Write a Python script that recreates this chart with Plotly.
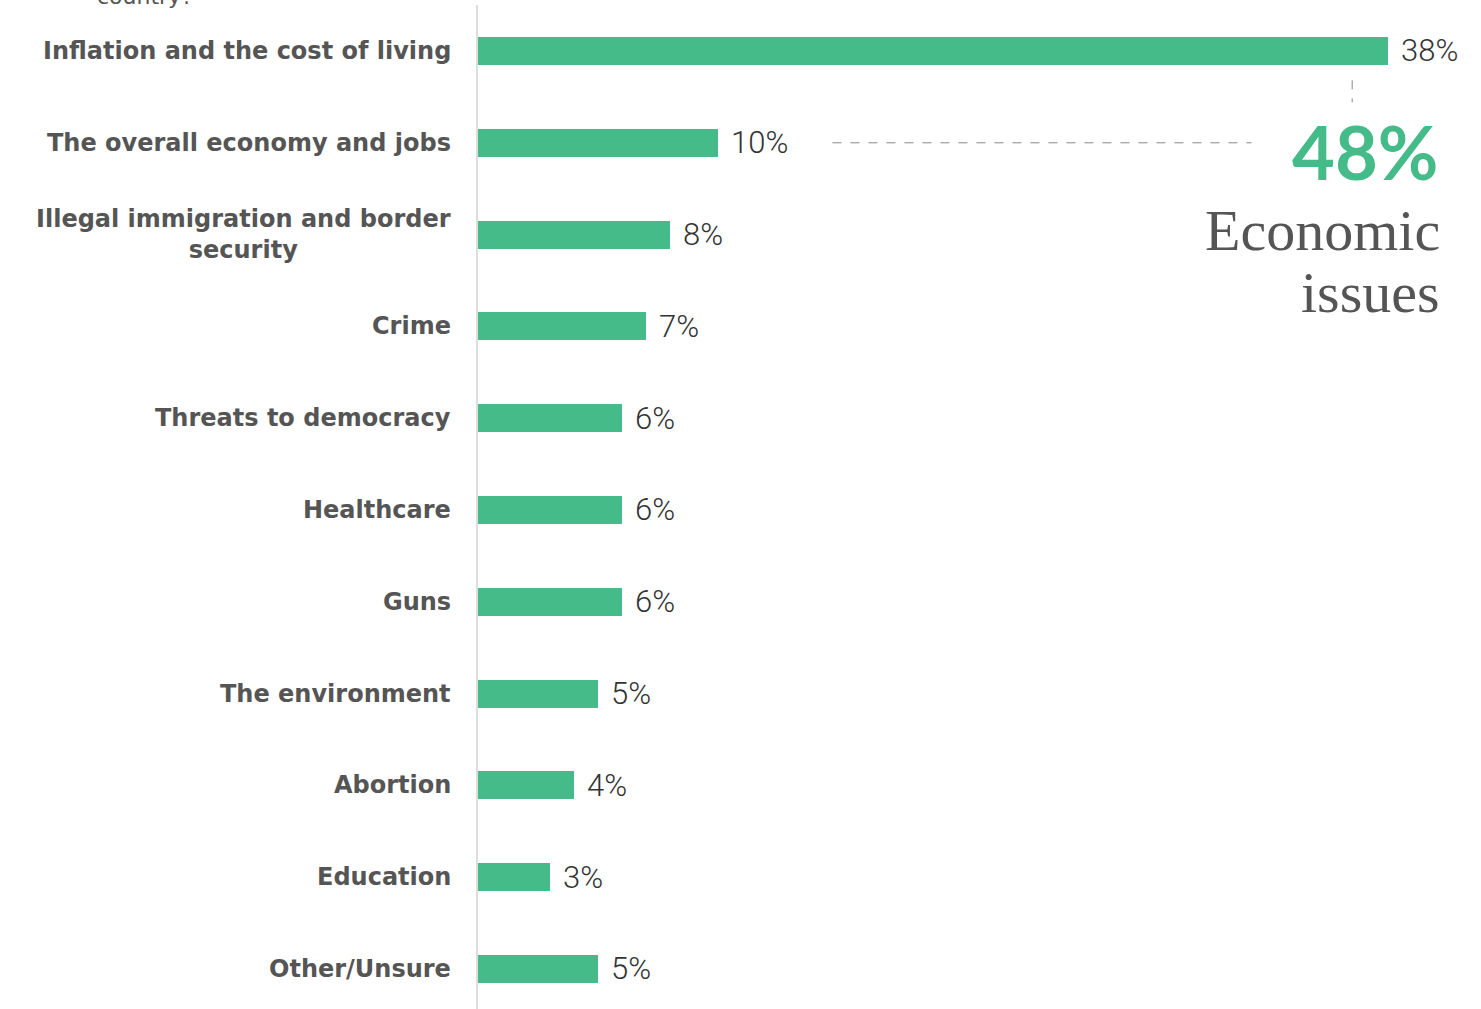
import plotly.graph_objects as go

# Most important issue facing the country (share of respondents, %)
issues = [
    "Inflation and the cost of living",
    "The overall economy and jobs",
    "Illegal immigration and border<br>security",
    "Crime",
    "Threats to democracy",
    "Healthcare",
    "Guns",
    "The environment",
    "Abortion",
    "Education",
    "Other/Unsure",
]
shares = [38, 10, 8, 7, 6, 6, 6, 5, 4, 3, 5]
economic_total = 48

GREEN = "#45bb89"
LABEL_GRAY = "#555555"
VALUE_GRAY = "#333333"

positions = list(range(len(issues)))

fig = go.Figure()
fig.add_trace(go.Bar(
    x=shares,
    y=positions,
    orientation="h",
    width=0.305,
    marker=dict(color=GREEN, line=dict(width=0)),
    hoverinfo="skip",
))

annotations = []
# category labels, right-aligned against the axis line
for pos, name in zip(positions, issues):
    annotations.append(dict(
        x=0, xref="paper", y=pos, yref="y",
        text=name, showarrow=False,
        xanchor="right", yanchor="middle", align="center",
        xshift=-25,
        font=dict(family="DejaVu Sans", size=24, color=LABEL_GRAY, weight=700),
    ))
# value labels next to each bar
for pos, val in zip(positions, shares):
    annotations.append(dict(
        x=val, xref="x", y=pos, yref="y",
        text=f"{val}%", showarrow=False,
        xanchor="left", yanchor="middle",
        xshift=11,
        font=dict(family="Roboto", size=31, color=VALUE_GRAY, weight=300),
    ))

# combined economic share callout
annotations.append(dict(
    x=1, xref="paper", y=1.09, yref="y",
    text=f"<b>{economic_total}%</b>", showarrow=False,
    xanchor="right", yanchor="middle", xshift=4,
    font=dict(family="Lato", size=74, color=GREEN, weight=800),
))
annotations.append(dict(
    x=1, xref="paper", y=1.95, yref="y",
    text="Economic", showarrow=False,
    xanchor="right", yanchor="middle", xshift=6,
    font=dict(family="Liberation Serif", size=58, color=LABEL_GRAY),
))
annotations.append(dict(
    x=1, xref="paper", y=2.63, yref="y",
    text="issues", showarrow=False,
    xanchor="right", yanchor="middle", xshift=6,
    font=dict(family="Liberation Serif", size=58, color=LABEL_GRAY),
))
# tail of the question text above the chart
plot_width = 1481 - 478 - 45
annotations.append(dict(
    x=(145 - 478) / plot_width, xref="paper", y=1, yref="paper",
    text="country?", showarrow=False,
    xanchor="center", yanchor="bottom", yshift=-6,
    font=dict(family="DejaVu Sans", size=22, color=LABEL_GRAY),
))

shapes = [
    # dashed leader from the economy bar to the callout
    dict(type="line", xref="x", yref="y", x0=14.8, x1=32.3, y0=1, y1=1,
         line=dict(color="#888888", width=1, dash="dash")),
    # dashed leader from the inflation bar down to the callout
    dict(type="line", xref="x", yref="y", x0=36.5, x1=36.5, y0=0.32, y1=0.56,
         line=dict(color="#888888", width=1, dash="dash")),
]

fig.update_layout(
    width=1481, height=1009,
    margin=dict(l=478, r=45, t=5, b=0),
    paper_bgcolor="white", plot_bgcolor="white",
    showlegend=False,
    bargap=0,
    annotations=annotations,
    shapes=shapes,
    xaxis=dict(range=[0, 40], visible=False, fixedrange=True),
    yaxis=dict(
        range=[10.436, -0.501],
        showticklabels=False, showgrid=False, zeroline=False,
        showline=True, linecolor="#dddddd", linewidth=2,
        ticks="", fixedrange=True,
    ),
)

fig.write_html("out.html", config={"displayModeBar": False})
